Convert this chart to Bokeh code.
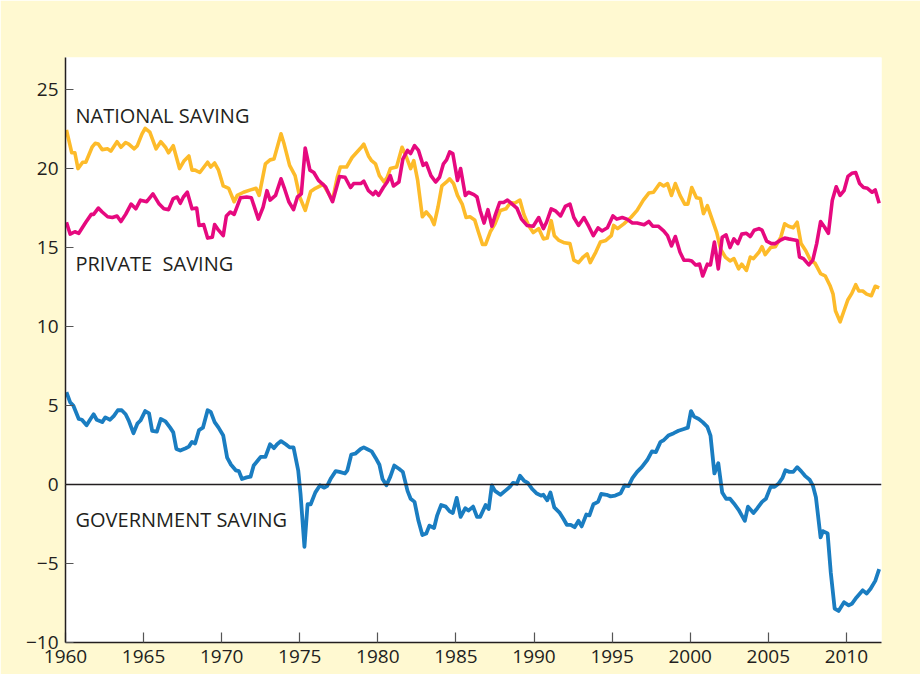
from bokeh.plotting import figure
from bokeh.models import Range1d, Span, Label, FixedTicker
from bokeh.embed import file_html
from bokeh.resources import INLINE

# ---------------- data ----------------
x_ticks = [1960, 1965, 1970, 1975, 1980, 1985, 1990, 1995, 2000, 2005, 2010]
y_ticks = [-10, -5, 0, 5, 10, 15, 20, 25]
y_tick_labels = {-10: "\u221210", -5: "\u22125", 0: "0", 5: "5", 10: "10", 15: "15", 20: "20", 25: "25"}

nat_year = [
    1960.06, 1960.4, 1960.6, 1960.8, 1961.1, 1961.3, 1961.7, 1961.9, 1962.1, 1962.35,
    1962.7, 1962.9, 1963.3, 1963.55, 1963.85, 1964.05, 1964.4, 1964.6, 1964.9, 1965.1,
    1965.4, 1965.8, 1966.1, 1966.4, 1966.6, 1966.9, 1967.3, 1967.6, 1967.9, 1968.1,
    1968.3, 1968.6, 1969.1, 1969.3, 1969.55, 1969.8, 1970.1, 1970.45, 1970.8, 1971.0,
    1971.4, 1971.85, 1972.2, 1972.4, 1972.8, 1973.1, 1973.35, 1973.8, 1974.0, 1974.35,
    1974.7, 1975.0, 1975.35, 1975.7, 1976.0, 1976.5, 1977.1, 1977.4, 1977.6, 1978.0,
    1978.35, 1978.9,
    1979.1, 1979.4, 1979.6, 1979.85, 1980.1, 1980.4, 1980.6, 1980.8, 1981.2, 1981.55,
    1981.8, 1982.1, 1982.3, 1982.55, 1982.85, 1983.1, 1983.4, 1983.6, 1983.85, 1984.1,
    1984.4, 1984.6, 1984.85, 1985.1, 1985.4, 1985.65, 1985.9, 1986.2, 1986.45, 1986.7,
    1986.9, 1987.2, 1987.5, 1987.85, 1988.2, 1988.5, 1988.75, 1989.1, 1989.35, 1989.65,
    1989.95, 1990.3, 1990.6, 1990.85, 1991.1, 1991.3, 1991.6, 1991.95, 1992.3, 1992.55,
    1992.85, 1993.15, 1993.4, 1993.6, 1993.95, 1994.25, 1994.6, 1994.95, 1995.1, 1995.35,
    1995.75, 1996.2, 1996.6, 1997.0, 1997.35, 1997.65,
    1998.05, 1998.3, 1998.55, 1998.8, 1999.05, 1999.35, 1999.65, 1999.85, 2000.1, 2000.4,
    2000.65, 2000.85, 2001.1, 2001.4, 2001.7, 2001.95, 2002.25, 2002.55, 2002.8, 2003.1,
    2003.3, 2003.6, 2003.85, 2004.05, 2004.4, 2004.6, 2004.8, 2005.15, 2005.45, 2005.8,
    2006.05, 2006.3, 2006.6, 2006.85, 2007.1, 2007.4, 2007.7, 2008.0, 2008.35, 2008.65,
    2008.95, 2009.15, 2009.3, 2009.6, 2009.85, 2010.1, 2010.35, 2010.6, 2010.8, 2011.05,
    2011.3, 2011.6, 2011.85, 2012.1,
]
nat_val = [
    22.45, 21.0, 21.0, 20.0, 20.4, 20.4, 21.35, 21.6, 21.55, 21.2,
    21.25, 21.1, 21.7, 21.35, 21.65, 21.55, 21.25, 21.45, 22.2, 22.55,
    22.3, 21.25, 21.7, 21.35, 21.0, 21.45, 20.0, 20.5, 20.8, 19.9,
    19.9, 19.75, 20.4, 20.1, 20.35, 19.9, 18.9, 18.75, 17.9, 18.3,
    18.5, 18.65, 18.75, 18.3, 20.3, 20.55, 20.6, 22.2, 21.55, 20.2,
    19.55, 18.2, 17.35, 18.55, 18.75, 19.0, 18.0, 19.45, 20.1, 20.1,
    20.7, 21.3,
    21.55, 20.8, 20.5, 20.3, 19.55, 19.15, 19.45, 20.0, 20.1, 21.35,
    20.8, 20.0, 20.5, 19.25, 16.95, 17.25, 16.9, 16.45, 17.55, 18.9,
    19.15, 19.35, 19.05, 18.3, 17.75, 16.9, 16.95, 16.75, 15.95, 15.2,
    15.2, 16.0, 16.5, 17.35, 17.45, 17.85, 17.8, 18.0, 17.1, 16.4,
    15.95, 16.2, 15.55, 15.6, 16.7, 15.75, 15.45, 15.3, 15.25, 14.2,
    14.05, 14.4, 14.6, 14.05, 14.7, 15.35, 15.45, 15.75, 16.4, 16.2,
    16.5, 16.9, 17.35, 18.0, 18.45, 18.5,
    19.05, 18.9, 19.05, 18.3, 19.05, 18.3, 17.75, 17.75, 18.8, 18.15,
    18.1, 17.15, 17.65, 16.8, 15.95, 14.9, 14.4, 14.15, 14.3, 13.65,
    13.95, 13.55, 14.4, 14.3, 14.7, 15.05, 14.55, 15.0, 15.05, 15.65,
    16.5, 16.35, 16.25, 16.6, 15.25, 14.8, 14.2, 14.0, 13.35, 13.2,
    12.6, 12.05, 11.0, 10.3, 11.0, 11.7, 12.1, 12.65, 12.25, 12.25,
    12.05, 11.95, 12.55, 12.45,
]

priv_year = [
    1960.06, 1960.3, 1960.6, 1960.85, 1961.3, 1961.65, 1961.8, 1962.1, 1962.35, 1962.7,
    1963.0, 1963.3, 1963.55, 1963.85, 1964.2, 1964.5, 1964.8, 1965.2, 1965.6, 1966.0,
    1966.3, 1966.6, 1966.9, 1967.15, 1967.35, 1967.55, 1967.8, 1968.1, 1968.4, 1968.55,
    1968.85, 1969.1, 1969.4, 1969.55, 1969.8, 1970.1, 1970.3, 1970.55, 1970.8, 1971.2,
    1971.6, 1971.9, 1972.35, 1972.65, 1972.9, 1973.1, 1973.45, 1973.8, 1974.0, 1974.3,
    1974.6, 1974.85, 1975.1, 1975.35, 1975.65, 1975.9, 1976.2, 1976.65, 1977.1, 1977.55,
    1977.9, 1978.25, 1978.45,
    1978.9, 1979.1, 1979.4, 1979.7, 1979.85, 1980.05, 1980.35, 1980.6, 1980.8, 1981.0,
    1981.35, 1981.6, 1981.9, 1982.1, 1982.35, 1982.6, 1982.9, 1983.1, 1983.4, 1983.7,
    1983.95, 1984.2, 1984.4, 1984.6, 1984.8, 1985.1, 1985.3, 1985.6, 1985.8, 1986.15,
    1986.35, 1986.55, 1986.8, 1987.05, 1987.3, 1987.5, 1987.8, 1988.05, 1988.3, 1988.6,
    1988.9, 1989.2, 1989.55, 1989.95, 1990.3, 1990.6, 1990.8, 1991.1, 1991.4, 1991.7,
    1992.0, 1992.3, 1992.55, 1992.85, 1993.2, 1993.5, 1993.8, 1994.1, 1994.35, 1994.7,
    1995.05, 1995.3, 1995.65, 1995.95, 1996.3, 1996.6,
    1997.05, 1997.35, 1997.6, 1997.95, 1998.3, 1998.55, 1998.8, 1999.05, 1999.35, 1999.6,
    1999.9, 2000.1, 2000.35, 2000.6, 2000.8, 2001.1, 2001.3, 2001.55, 2001.8, 2002.05,
    2002.3, 2002.55, 2002.8, 2003.05, 2003.3, 2003.6, 2003.85, 2004.1, 2004.4, 2004.6,
    2004.9, 2005.2, 2005.45, 2005.75, 2006.05, 2006.3, 2006.6, 2006.85, 2007.0, 2007.25,
    2007.6, 2007.85, 2008.1, 2008.35, 2008.6, 2008.85, 2009.1, 2009.35, 2009.6, 2009.85,
    2010.1, 2010.35, 2010.6, 2010.85, 2011.1, 2011.35, 2011.65, 2011.85, 2012.1,
]
priv_val = [
    16.6, 15.85, 16.0, 15.9, 16.6, 17.1, 17.1, 17.5, 17.25, 16.95,
    16.9, 17.0, 16.65, 17.1, 17.75, 17.45, 18.0, 17.9, 18.4, 17.75,
    17.45, 17.4, 18.1, 18.2, 17.8, 18.2, 18.5, 17.45, 17.5, 16.4,
    16.45, 15.6, 15.65, 16.45, 16.1, 15.75, 17.0, 17.25, 17.1, 18.15,
    18.2, 18.15, 16.8, 17.55, 18.6, 18.0, 18.3, 19.35, 18.8, 17.9,
    17.4, 18.2, 18.4, 21.3, 19.9, 19.75, 19.25, 18.85, 17.9, 19.5,
    19.45, 18.8, 19.05,
    19.05, 19.2, 18.6, 18.35, 18.55, 18.3, 18.8, 19.15, 19.55, 18.9,
    19.15, 20.6, 21.15, 20.95, 21.45, 21.15, 20.2, 20.35, 19.55, 19.15,
    19.45, 20.3, 20.55, 21.05, 20.95, 19.25, 20.0, 18.3, 18.5, 18.35,
    18.2, 17.35, 16.55, 17.4, 16.35, 17.0, 17.85, 17.85, 18.0, 17.75,
    17.5, 16.8, 16.4, 16.35, 16.9, 16.2, 16.6, 17.45, 17.3, 17.0,
    17.6, 17.75, 16.9, 16.4, 16.9, 16.35, 15.75, 16.25, 16.05, 16.25,
    17.0, 16.8, 16.9, 16.8, 16.55, 16.55,
    16.45, 16.65, 16.35, 16.35, 16.05, 15.75, 15.1, 15.7, 14.7, 14.2,
    14.2, 14.15, 13.9, 13.95, 13.2, 13.95, 13.9, 15.35, 13.65, 15.65,
    15.8, 15.0, 15.55, 15.25, 15.85, 15.9, 15.7, 16.1, 16.2, 16.1,
    15.4, 15.25, 15.25, 15.45, 15.6, 15.55, 15.5, 15.45, 14.4, 14.3,
    13.9, 14.2, 15.25, 16.65, 16.3, 15.9, 18.0, 18.85, 18.3, 18.6,
    19.5, 19.7, 19.75, 19.05, 18.8, 18.75, 18.5, 18.65, 17.8,
]

gov_year = [
    1960.06, 1960.3, 1960.5, 1960.85, 1961.05, 1961.35, 1961.6, 1961.8, 1962.0, 1962.35,
    1962.55, 1962.85, 1963.1, 1963.35, 1963.6, 1963.85, 1964.05, 1964.35, 1964.6, 1964.8,
    1965.1, 1965.35, 1965.55, 1965.85, 1966.1, 1966.4, 1966.7, 1966.9, 1967.1, 1967.35,
    1967.7, 1967.9, 1968.1, 1968.3, 1968.55, 1968.8, 1969.1, 1969.3, 1969.55, 1969.8,
    1970.1, 1970.35, 1970.6, 1970.9, 1971.1, 1971.3, 1971.6, 1971.85, 1972.05, 1972.3,
    1972.5, 1972.8, 1973.1, 1973.35, 1973.55, 1973.8, 1974.1, 1974.35, 1974.6, 1974.9,
    1975.05, 1975.3, 1975.5, 1975.7, 1976.0, 1976.3, 1976.55, 1976.75, 1977.0, 1977.3,
    1977.55, 1977.9, 1978.05, 1978.3, 1978.55, 1978.9,
    1979.1, 1979.3, 1979.6, 1979.85, 1980.1, 1980.3, 1980.55, 1980.8, 1981.05, 1981.35,
    1981.6, 1981.9, 1982.1, 1982.35, 1982.6, 1982.85, 1983.1, 1983.3, 1983.6, 1983.8,
    1984.05, 1984.35, 1984.6, 1984.8, 1985.05, 1985.3, 1985.6, 1985.8, 1986.1, 1986.35,
    1986.55, 1986.9, 1987.1, 1987.3, 1987.5, 1987.85, 1988.15, 1988.45, 1988.65, 1988.9,
    1989.1, 1989.35, 1989.6, 1989.9, 1990.15, 1990.45, 1990.6, 1990.85, 1991.05, 1991.3,
    1991.65, 1991.9, 1992.1, 1992.35, 1992.6, 1992.85, 1993.05, 1993.35, 1993.55, 1993.8,
    1994.1, 1994.3, 1994.65, 1994.9, 1995.2, 1995.55, 1995.8, 1996.05, 1996.3, 1996.6,
    1996.9, 1997.25, 1997.55, 1997.8, 1998.1,
    1998.3, 1998.6, 1998.95, 1999.25, 1999.55, 1999.85, 2000.05, 2000.25, 2000.55, 2000.8,
    2001.1, 2001.3, 2001.55, 2001.8, 2002.05, 2002.3, 2002.55, 2002.8, 2003.1, 2003.3,
    2003.5, 2003.7, 2004.05, 2004.3, 2004.6, 2004.85, 2005.15, 2005.4, 2005.65, 2005.9,
    2006.1, 2006.35, 2006.6, 2006.85, 2007.1, 2007.35, 2007.65, 2007.85, 2008.05, 2008.35,
    2008.5, 2008.8, 2009.0, 2009.25, 2009.5, 2009.85, 2010.15, 2010.35, 2010.65, 2011.05,
    2011.3, 2011.55, 2011.85, 2012.1,
]
gov_val = [
    5.85, 5.2, 5.0, 4.15, 4.1, 3.75, 4.15, 4.45, 4.1, 3.95,
    4.25, 4.1, 4.35, 4.7, 4.7, 4.45, 4.05, 3.25, 3.85, 4.05,
    4.65, 4.5, 3.4, 3.35, 4.15, 4.0, 3.6, 3.3, 2.25, 2.15,
    2.3, 2.4, 2.7, 2.6, 3.45, 3.6, 4.7, 4.6, 3.95, 3.6,
    3.1, 1.7, 1.25, 0.9, 0.85, 0.35, 0.45, 0.5, 1.2, 1.5,
    1.75, 1.75, 2.55, 2.3, 2.55, 2.75, 2.55, 2.35, 2.35, 0.9,
    -0.6, -3.95, -1.25, -1.25, -0.5, -0.05, -0.2, -0.1, 0.4, 0.85,
    0.8, 0.7, 0.9, 1.9, 1.95, 2.25,
    2.35, 2.25, 2.1, 1.7, 1.25, 0.35, -0.05, 0.5, 1.2, 1.0,
    0.8, -0.4, -0.9, -1.1, -2.3, -3.2, -3.1, -2.6, -2.75, -1.95,
    -1.3, -1.4, -1.7, -1.8, -0.85, -2.05, -1.5, -1.65, -1.4, -2.05,
    -2.05, -1.3, -1.55, -0.05, -0.4, -0.65, -0.4, -0.15, 0.1, 0.05,
    0.55, 0.25, 0.1, -0.3, -0.55, -0.7, -0.65, -1.0, -0.5, -1.45,
    -1.8, -2.2, -2.55, -2.55, -2.7, -2.3, -2.65, -1.9, -1.95, -1.25,
    -1.1, -0.6, -0.65, -0.75, -0.7, -0.55, -0.05, -0.1, 0.4, 0.8,
    1.1, 1.55, 2.1, 2.05, 2.7,
    2.8, 3.1, 3.25, 3.4, 3.5, 3.6, 4.65, 4.3, 4.15, 3.95,
    3.65, 3.1, 0.7, 1.35, -0.5, -0.9, -0.9, -1.2, -1.6, -1.95,
    -2.3, -1.4, -1.8, -1.5, -1.1, -0.9, -0.15, -0.15, 0.05, 0.4,
    0.9, 0.8, 0.8, 1.1, 0.85, 0.55, 0.3, -0.05, -0.8, -3.35,
    -2.95, -3.1, -5.55, -7.85, -8.0, -7.45, -7.65, -7.55, -7.15, -6.7,
    -6.9, -6.6, -6.1, -5.35,
]

series_labels = ["NATIONAL SAVING", "PRIVATE\u00a0 SAVING", "GOVERNMENT SAVING"]

# ---------------- figure ----------------
FONT = "Open Sans"
TXT = "#231f20"

p = figure(width=920, height=674, output_backend="svg", toolbar_location=None,
           x_range=Range1d(1960, 2012.25), y_range=Range1d(-10, 27.03),
           min_border_left=65, min_border_right=39, min_border_top=57, min_border_bottom=32)
p.border_fill_color = "#FFF9D1"
p.background_fill_color = "white"
p.outline_line_color = None
p.grid.visible = False

for ax in (p.xaxis, p.yaxis):
    ax.axis_line_color = TXT
    ax.axis_line_width = 1.5
    ax.major_tick_line_color = "#555555"
    ax.major_tick_line_width = 1.2
    ax.major_tick_out = 0
    ax.minor_tick_line_color = None
    ax.major_label_text_font = FONT
    ax.major_label_text_font_size = "19px"
    ax.major_label_text_color = TXT

p.xaxis.ticker = FixedTicker(ticks=x_ticks)
p.xaxis.major_tick_in = 10
p.xaxis.major_label_standoff = 7
p.yaxis.ticker = FixedTicker(ticks=y_ticks)
p.yaxis.major_tick_in = 8
p.yaxis.major_label_standoff = 7
p.yaxis.major_label_overrides = y_tick_labels

p.add_layout(Span(location=0, dimension="width", line_color=TXT, line_width=1.3))

p.line(nat_year, nat_val, line_color="#FDBB2A", line_width=3.6, line_join="round")
p.line(priv_year, priv_val, line_color="#E6097F", line_width=3.6, line_join="round")
p.line(gov_year, gov_val, line_color="#1A7DC1", line_width=3.8, line_join="round")

for txt, yy in zip(series_labels, (23.35, 14.0, -2.2)):
    p.add_layout(Label(x=1960.64, y=yy, text=txt, text_font=FONT, text_font_size="20px",
                       text_color=TXT, text_baseline="middle", text_align="left"))

open("out.html", "w").write(file_html(p, INLINE))
